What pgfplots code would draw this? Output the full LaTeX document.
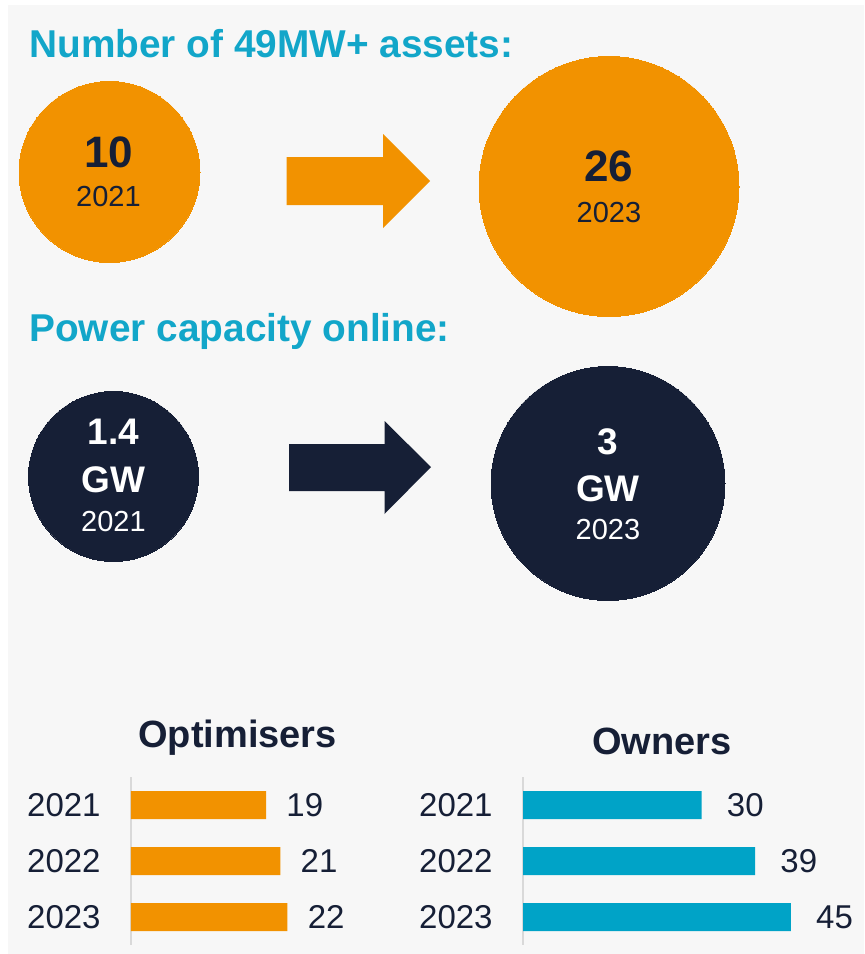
\documentclass[border=0pt]{standalone}
\usepackage{fontspec}
\setmainfont{Liberation Sans}
\usepackage{pgfplots}
\pgfplotsset{compat=1.18}
\definecolor{orangeC}{HTML}{F29200}
\definecolor{navyC}{HTML}{161F36}
\definecolor{titleC}{HTML}{12A6C9}
\definecolor{barC}{HTML}{00A3C7}
\definecolor{bgC}{HTML}{F7F7F7}
\definecolor{lineC}{HTML}{D9D9D9}
\newcommand{\fs}[1]{\fontsize{#1}{#1}\selectfont}
\pgfplotsset{baraxis/.style={
  scale only axis, height=84pt, ymin=-0.5, ymax=2.5, y dir=reverse, xmin=0,
  axis x line=none, axis y line*=left,
  y axis line style={draw=lineC, line width=0.75pt},
  ytick={0,1,2}, yticklabels={2021,2022,2023}, major tick length=0pt,
  yticklabel style={font=\fs{16.5pt}, text=navyC, inner sep=0pt, anchor=east, xshift=-15pt},
  clip=false, /pgf/number format/assume math mode=true,
  xbar, bar width=14pt, anchor=south west,
  nodes near coords, nodes near coords align={horizontal},
}}
\begin{document}
\begin{tikzpicture}
\fill[white] (0,0) rectangle (432pt,477pt);
\fill[bgC] (4pt,0) rectangle (432pt,474.5pt);
\begin{axis}[at={(0,0)}, anchor=south west, scale only axis, width=432pt, height=477pt,
  xmin=0, xmax=864, ymin=0, ymax=954, y dir=reverse, axis lines=none, clip=false]
% arrows
\addplot[fill=orangeC, draw=none] coordinates {(286.5,157) (383,157) (383,134) (430,181) (383,228) (383,205) (286.5,205)} -- cycle;
\addplot[fill=navyC, draw=none] coordinates {(289,444) (384.5,444) (384.5,421) (431,467) (384.5,514) (384.5,491) (289,491)} -- cycle;
% circles: number of 49MW+ assets
\addplot[only marks, mark=*, mark size=45.25pt, mark options={fill=orangeC, draw=orangeC, line width=0pt}] coordinates {(109.5,172)};
\addplot[only marks, mark=*, mark size=65pt, mark options={fill=orangeC, draw=orangeC, line width=0pt}] coordinates {(609,186.5)};
% circles: power capacity
\addplot[only marks, mark=*, mark size=42.5pt, mark options={fill=navyC, draw=navyC, line width=0pt}] coordinates {(113.5,476.5)};
\addplot[only marks, mark=*, mark size=58.5pt, mark options={fill=navyC, draw=navyC, line width=0pt}] coordinates {(608,483.5)};
\end{axis}
\begin{scope}[x=0.5pt, y=-0.5pt, shift={(0pt,477pt)}]
% titles
\node[anchor=base west, inner sep=0pt, font=\bfseries\fs{19.4pt}, text=titleC] at (29,58) {Number of 49MW+ assets:};
\node[anchor=base west, inner sep=0pt, font=\bfseries\fs{19.4pt}, text=titleC] at (29,342) {Power capacity online:};
% circle texts
\node[inner sep=0pt, font=\bfseries\fs{22pt}, text=navyC] at (108.5,152.5) {10};
\node[inner sep=0pt, font=\fs{14.5pt}, text=navyC] at (108.5,196.5) {2021};
\node[inner sep=0pt, font=\bfseries\fs{22pt}, text=navyC] at (609,166.5) {26};
\node[inner sep=0pt, font=\fs{14.5pt}, text=navyC] at (609,212.5) {2023};
\node[inner sep=0pt, font=\bfseries\fs{18.5pt}, text=white] at (113.5,432) {1.4};
\node[inner sep=0pt, font=\bfseries\fs{18.5pt}, text=white] at (113.5,480) {GW};
\node[inner sep=0pt, font=\fs{14.5pt}, text=white] at (113.5,522) {2021};
\node[inner sep=0pt, font=\bfseries\fs{18.5pt}, text=white] at (608,442) {3};
\node[inner sep=0pt, font=\bfseries\fs{18.5pt}, text=white] at (608,488.5) {GW};
\node[inner sep=0pt, font=\fs{14.5pt}, text=white] at (608,530) {2023};
% bar chart titles
\node[anchor=base, inner sep=0pt, font=\bfseries\fs{19pt}, text=navyC] at (237.5,748) {Optimisers};
\node[anchor=base, inner sep=0pt, font=\bfseries\fs{19pt}, text=navyC] at (662,755) {Owners};
\end{scope}
% Optimisers
\begin{axis}[baraxis, at={(65.5pt,4.5pt)}, width=78.2pt, xmax=22,
  every node near coord/.append style={font=\fs{16.5pt}, text=navyC, inner sep=0pt, anchor=west, xshift=10pt}]
\addplot[fill=orangeC, draw=none] coordinates {(19,0) (21,1) (22,2)};
\end{axis}
% Owners
\begin{axis}[baraxis, at={(261.5pt,4.5pt)}, width=133.9pt, xmax=45,
  every node near coord/.append style={font=\fs{16.5pt}, text=navyC, inner sep=0pt, anchor=west, xshift=12.5pt}]
\addplot[fill=barC, draw=none] coordinates {(30,0) (39,1) (45,2)};
\end{axis}
\end{tikzpicture}
\end{document}
